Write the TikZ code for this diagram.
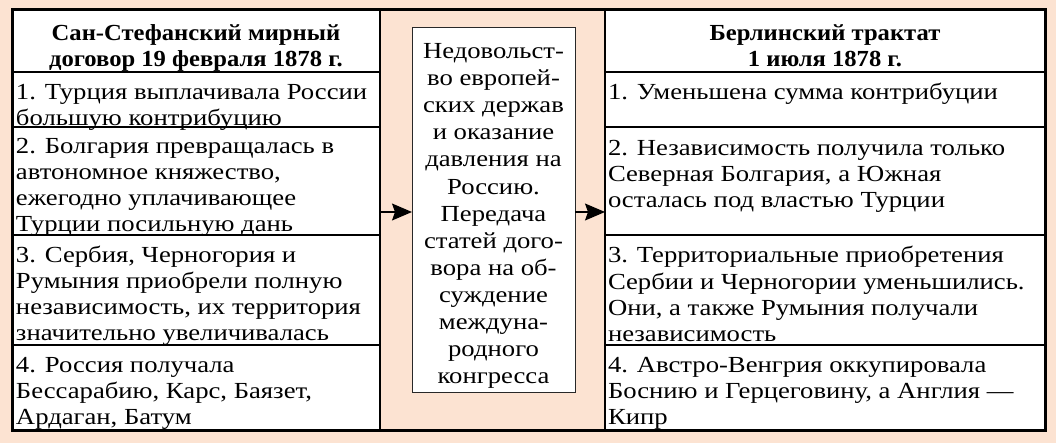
\documentclass[tikz,border=0pt]{standalone}
\usepackage{fontspec}
\setmainfont{Liberation Serif}[FakeStretch=1.16]
\newfontfamily\headfont{Liberation Serif}[FakeStretch=1.07]
\usetikzlibrary{arrows.meta}
\definecolor{peach}{RGB}{252,227,210}
\definecolor{boxline}{RGB}{40,40,40}
\begin{document}
\begin{tikzpicture}[x=1pt,y=-1pt,
  colbox/.style={draw=black, fill=white, line width=2.5pt, inner sep=0pt, outer sep=0pt, anchor=north west},
  midbox/.style={draw=boxline, fill=white, line width=0.9pt, inner sep=0pt, outer sep=0pt, anchor=north west, minimum width=163pt, minimum height=365pt},
  divline/.style={line width=1.4pt, draw=black},
  body/.style={anchor=north west, inner sep=0pt, outer sep=0pt, align=left, font=\fontsize{23}{26}\selectfont},
  head/.style={anchor=north, inner sep=0pt, outer sep=0pt, align=center, font=\headfont\fontsize{23}{26}\selectfont\bfseries},
  midtext/.style={anchor=north, inner sep=0pt, outer sep=0pt, align=center, font=\fontsize{23}{27}\selectfont},
  arr/.style={line width=1.2pt, -{Stealth[length=20pt,width=17pt,inset=3pt]}}
]
\fill[peach] (0,0) rectangle (1056,443);
\useasboundingbox (0,0) rectangle (1056,443);

% columns
\node[colbox, minimum width=368pt, minimum height=420pt] (lcol) at (12,10) {};
\node[colbox, minimum width=440pt, minimum height=420pt] (rcol) at (605,10) {};
\node[midbox] (mbox) at (412,27) {};

% outer frame
\draw[line width=3pt] (12,10) rectangle (1045,430);

% dividers
\foreach \yy in {72,127,235,345}{
  \draw[divline] (lcol.west |- 0,\yy) -- (lcol.east |- 0,\yy);
  \draw[divline] (rcol.west |- 0,\yy) -- (rcol.east |- 0,\yy);
}

% left column texts
\node[head] (lh) at (196,22.8) {\strut Сан-Стефанский мирный\\договор 19 февраля 1878 г.};
\node[body] (l1) at (16,81.8) {\strut 1. Турция выплачивала России\\большую контрибуцию};
\node[body] (l2) at (16,135.8) {\strut 2. Болгария превращалась в\\автономное княжество,\\ежегодно уплачивающее\\Турции посильную дань};
\node[body] (l3) at (16,243.8) {\strut 3. Сербия, Черногория и\\Румыния приобрели полную\\независимость, их территория\\значительно увеличивалась};
\node[body] (l4) at (16,353.8) {\strut 4. Россия получала\\Бессарабию, Карс, Баязет,\\Ардаган, Батум};

% right column texts
\node[head] (rh) at (825,22.8) {\strut Берлинский трактат\\1 июля 1878 г.};
\node[body] (r1) at (608,81.8) {\strut 1. Уменьшена сумма контрибуции};
\node[body] (r2) at (608,137.8) {\strut 2. Независимость получила только\\Северная Болгария, а Южная\\осталась под властью Турции};
\node[body] (r3) at (608,244.8) {\strut 3. Территориальные приобретения\\Сербии и Черногории уменьшились.\\Они, а также Румыния получали\\независимость};
\node[body] (r4) at (608,353.8) {\strut 4. Австро-Венгрия оккупировала\\Боснию и Герцеговину, а Англия —\\Кипр};

% middle text
\node[midtext] (mt) at (493.5,40.1) {\strut Недовольст-\\во европей-\\ских держав\\и оказание\\давления на\\Россию.\\Передача\\статей дого-\\вора на об-\\суждение\\междуна-\\родного\\конгресса};

% arrows
\coordinate (ay) at (0,212);
\draw[arr] (lcol.east |- ay) -- (mbox.west |- ay);
\draw[arr] (mbox.east |- ay) -- (rcol.west |- ay);
\end{tikzpicture}
\end{document}
